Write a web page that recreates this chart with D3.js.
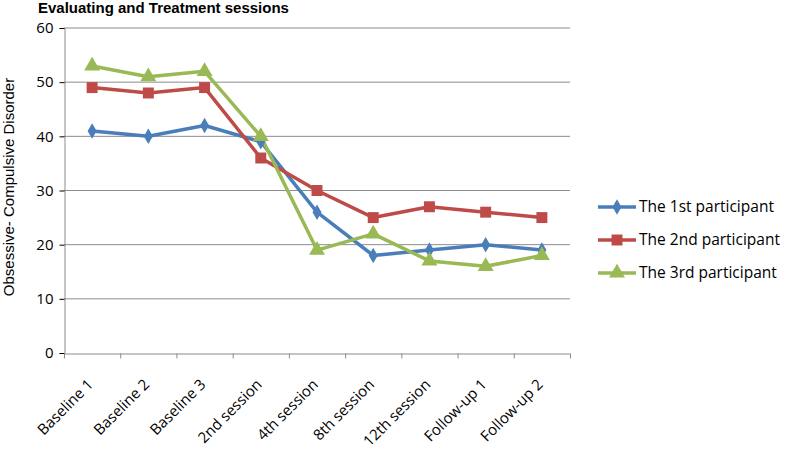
<!DOCTYPE html>
<html>
<head>
<meta charset="utf-8">
<script src="https://cdn.jsdelivr.net/npm/d3@7"></script>
<style>
  body { margin: 0; background: #fff; }
  svg { display: block; }
</style>
</head>
<body>
<svg id="chart"></svg>
<script>
const categories = ["Baseline 1", "Baseline 2", "Baseline 3", "2nd session", "4th session",
    "8th session", "12th session", "Follow-up 1", "Follow-up 2"];
const p1 = [41, 40, 42, 39, 26, 18, 19, 20, 19];
const p2 = [49, 48, 49, 36, 30, 25, 27, 26, 25];
const p3 = [53, 51, 52, 40, 19, 22, 17, 16, 18];
const seriesNames = ["The 1st participant", "The 2nd participant", "The 3rd participant"];
const yTicks = [0, 10, 20, 30, 40, 50, 60];

const width = 785, height = 454;
const colors = ["#4a7ebb", "#be4b48", "#98b954"];
const shapes = [d3.symbolDiamond, d3.symbolSquare, d3.symbolTriangle];
const sizes = [70, 120, 110];

const svg = d3.select("#chart")
    .attr("width", width)
    .attr("height", height);

const x = d3.scaleBand()
    .domain(categories)
    .range([64, 570]);

const y = d3.scaleLinear()
    .domain([0, 60])
    .range([353, 28]);

// gridlines
svg.append("g")
    .selectAll("line")
    .data(yTicks.slice(1))
    .join("line")
    .attr("x1", 64)
    .attr("x2", 570)
    .attr("y1", d => y(d))
    .attr("y2", d => y(d))
    .attr("stroke", "#8c8c8c")
    .attr("stroke-width", 1);

// y axis
const yAxis = svg.append("g")
    .attr("transform", "translate(64.5,0)")
    .call(d3.axisLeft(y).tickValues(yTicks).tickSize(5).tickPadding(6));
yAxis.selectAll("text")
    .style("font-family", "'Open Sans', sans-serif")
    .style("font-size", "15px")
    .attr("fill", "#000");

// x axis
const xAxis = svg.append("g")
    .attr("transform", "translate(0,353.5)")
    .call(d3.axisBottom(x).tickSize(0).tickFormat(""));
xAxis.selectAll(".tick").remove();

xAxis.selectAll("line.sep")
    .data(categories.map(c => x(c)).concat([x.range()[1]]))
    .join("line")
    .attr("class", "sep")
    .attr("x1", d => d + 0.5)
    .attr("x2", d => d + 0.5)
    .attr("y1", 0)
    .attr("y2", 5)
    .attr("stroke", "#8c8c8c");

xAxis.selectAll("text.lab")
    .data(categories)
    .join("text")
    .attr("class", "lab")
    .attr("text-anchor", "end")
    .attr("transform", d => `translate(${x(d) + x.bandwidth() / 2 + 2},${32}) rotate(-45)`)
    .style("font-family", "'Open Sans', sans-serif")
    .style("font-size", "15px")
    .attr("fill", "#000")
    .text(d => d);

svg.selectAll(".domain").attr("stroke", "#8c8c8c");

// title
svg.append("text")
    .attr("x", 38)
    .attr("y", 13)
    .style("font-family", "'Liberation Sans', Arial, sans-serif")
    .style("font-size", "15px")
    .style("font-weight", "bold")
    .text("Evaluating and Treatment sessions");

// y axis title
svg.append("text")
    .attr("transform", "translate(14,187) rotate(-90)")
    .attr("text-anchor", "middle")
    .style("font-family", "'Liberation Sans', Arial, sans-serif")
    .style("font-size", "15px")
    .text("Obsessive- Compulsive Disorder");

const line = d3.line()
    .x((d, i) => x(categories[i]) + x.bandwidth() / 2)
    .y(d => y(d));

const allSeries = [p1, p2, p3];

allSeries.forEach((s, k) => {
    svg.append("path")
        .datum(s)
        .attr("fill", "none")
        .attr("stroke", colors[k])
        .attr("stroke-width", 3.5)
        .attr("stroke-linejoin", "round")
        .attr("d", line);
});

allSeries.forEach((s, k) => {
    svg.append("g")
        .selectAll("path")
        .data(s)
        .join("path")
        .attr("transform", (d, i) => `translate(${x(categories[i]) + x.bandwidth() / 2},${y(d)})`)
        .attr("d", d3.symbol().type(shapes[k]).size(sizes[k]))
        .attr("fill", colors[k]);
});

// legend
const legend = svg.append("g")
    .attr("transform", "translate(598,207)");

const lg = legend.selectAll("g")
    .data(seriesNames)
    .join("g")
    .attr("transform", (d, i) => `translate(0,${i * 33})`);

lg.append("line")
    .attr("x1", 0)
    .attr("x2", 38)
    .attr("stroke", (d, i) => colors[i])
    .attr("stroke-width", 3.5);

lg.append("path")
    .attr("transform", "translate(19,0)")
    .attr("d", (d, i) => d3.symbol().type(shapes[i]).size(sizes[i])())
    .attr("fill", (d, i) => colors[i]);

lg.append("text")
    .attr("x", 41)
    .attr("y", 5)
    .style("font-family", "'Open Sans', sans-serif")
    .style("font-size", "15.5px")
    .text(d => d);
</script>
</body>
</html>
